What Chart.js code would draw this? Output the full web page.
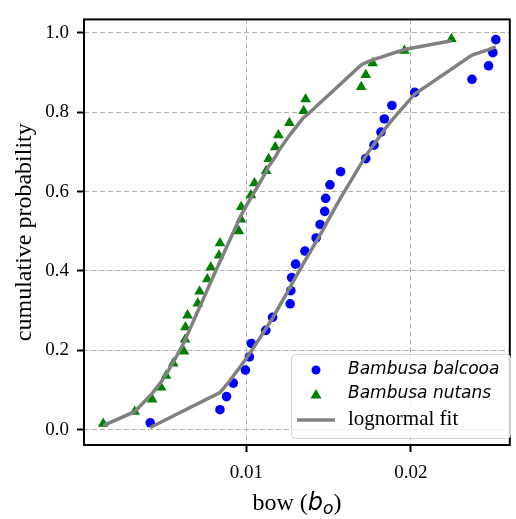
<!DOCTYPE html>
<html>
<head>
<meta charset="utf-8">
<script src="https://cdn.jsdelivr.net/npm/chart.js@4.4.1/dist/chart.umd.min.js"></script>
<style>
  html, body { margin: 0; padding: 0; background: #fff; }
</style>
</head>
<body>
<canvas id="bowChart" width="516" height="519"></canvas>
<script>
/* ── Data: bow of the two bamboo species, empirical CDF + lognormal fit ── */
const balcooaBow = [0.00415, 0.00839, 0.00879, 0.00920, 0.00994, 0.01018, 0.01030, 0.01118, 0.01159, 0.01266,
                    0.01270, 0.01275, 0.01299, 0.01356, 0.01424, 0.01448, 0.01476, 0.01482, 0.01508, 0.01573,
                    0.01726, 0.01776, 0.01818, 0.01839, 0.01885, 0.02024, 0.02372, 0.02473, 0.02499, 0.02517];
const balcooaProb = [0.017, 0.050, 0.083, 0.117, 0.150, 0.183, 0.217, 0.250, 0.283, 0.317,
                     0.350, 0.383, 0.417, 0.450, 0.483, 0.517, 0.550, 0.583, 0.617, 0.650,
                     0.683, 0.717, 0.750, 0.783, 0.817, 0.850, 0.883, 0.917, 0.950, 0.983];
const balcooaFit = [0.005, 0.093, 0.113, 0.135, 0.176, 0.191, 0.198, 0.254, 0.281, 0.359,
                    0.362, 0.366, 0.384, 0.425, 0.474, 0.491, 0.511, 0.516, 0.536, 0.584,
                    0.690, 0.719, 0.743, 0.756, 0.780, 0.846, 0.944, 0.958, 0.962, 0.965];

const nutansBow = [0.00129, 0.00320, 0.00427, 0.00481, 0.00511, 0.00555, 0.00620, 0.00627, 0.00629, 0.00642,
                   0.00704, 0.00715, 0.00762, 0.00783, 0.00833, 0.00839, 0.00954, 0.00967, 0.00968, 0.01027,
                   0.01049, 0.01120, 0.01135, 0.01175, 0.01195, 0.01261, 0.01348, 0.01360, 0.01698, 0.01726,
                   0.01768, 0.01961, 0.02247];
const nutansProb = [0.015, 0.045, 0.076, 0.106, 0.136, 0.167, 0.197, 0.227, 0.258, 0.288,
                    0.318, 0.348, 0.379, 0.409, 0.439, 0.470, 0.500, 0.530, 0.561, 0.591,
                    0.621, 0.652, 0.682, 0.712, 0.742, 0.773, 0.803, 0.833, 0.864, 0.894,
                    0.924, 0.955, 0.985];
const nutansFit = [0.010, 0.045, 0.091, 0.120, 0.139, 0.169, 0.220, 0.227, 0.229, 0.240,
                   0.298, 0.308, 0.352, 0.372, 0.418, 0.423, 0.528, 0.540, 0.540, 0.584,
                   0.599, 0.650, 0.663, 0.687, 0.702, 0.741, 0.787, 0.790, 0.919, 0.925,
                   0.932, 0.958, 0.980];

const xTicks = [0.01, 0.02];
const yTicks = [0.0, 0.2, 0.4, 0.6, 0.8, 1.0];

const seriesNames = ['Bambusa balcooa', 'Bambusa nutans', 'lognormal fit'];

/* ── Palette / fonts ───────────────────────────────────────── */
const palette = {
    blue:  '#0000ff',
    green: '#008000',
    fit:   '#808080',
    grid:  '#b0b0b0',
    frame: '#000000',
};
const serif = '"Liberation Serif", "Times New Roman", serif';
const sans  = '"DejaVu Sans", sans-serif';

const toXY = (xs, ys) => xs.map((x, i) => ({ x, y: ys[i] }));

/* frame on all four sides, drawn over the data like mpl spines */
const framePlugin = {
    id: 'frame',
    afterDatasetsDraw(chart) {
        const { ctx, chartArea: a } = chart;
        ctx.save();
        ctx.strokeStyle = palette.frame;
        ctx.lineWidth = 2;
        ctx.strokeRect(a.left, a.top, a.right - a.left, a.bottom - a.top);
        ctx.restore();
    },
};

/* x title with a math-style italic symbol: bow (b_o) */
const xTitlePlugin = {
    id: 'xTitle',
    afterDraw(chart) {
        const { ctx, chartArea: a } = chart;
        const parts = [
            { t: 'bow (', font: `24px ${serif}`, dy: 0 },
            { t: 'b',     font: `italic 24px ${sans}`, dy: 0 },
            { t: 'o',     font: `italic 17px ${sans}`, dy: 4 },
            { t: ')',     font: `24px ${serif}`, dy: 0 },
        ];
        ctx.save();
        ctx.fillStyle = '#000';
        ctx.textBaseline = 'alphabetic';
        let total = 0;
        parts.forEach(p => { ctx.font = p.font; p.w = ctx.measureText(p.t).width; total += p.w; });
        let x = (a.left + a.right) / 2 - total / 2;
        const y = 510;
        parts.forEach(p => {
            ctx.font = p.font;
            ctx.fillText(p.t, x, y + p.dy);
            x += p.w;
        });
        ctx.restore();
    },
};

/* legend box in the lower right corner of the axes */
const legendPlugin = {
    id: 'boxLegend',
    afterDraw(chart) {
        const { ctx } = chart;
        const x0 = 291.5, y0 = 354.5, w = 219, h = 84;
        ctx.save();
        ctx.beginPath();
        ctx.roundRect(x0, y0, w, h, 4);
        ctx.fillStyle = 'rgba(255,255,255,0.8)';
        ctx.fill();
        ctx.strokeStyle = '#d0d0d0';
        ctx.lineWidth = 1;
        ctx.stroke();

        const mx = 316, tx = 348;
        const rows = [370, 394, 420];

        // circle
        ctx.fillStyle = palette.blue;
        ctx.beginPath();
        ctx.arc(mx, rows[0], 4.5, 0, Math.PI * 2);
        ctx.fill();
        // triangle
        ctx.fillStyle = palette.green;
        ctx.beginPath();
        ctx.moveTo(mx, rows[1] - 5);
        ctx.lineTo(mx + 5.5, rows[1] + 4.5);
        ctx.lineTo(mx - 5.5, rows[1] + 4.5);
        ctx.closePath();
        ctx.fill();
        // line
        ctx.strokeStyle = palette.fit;
        ctx.lineWidth = 3.5;
        ctx.beginPath();
        ctx.moveTo(297, rows[2]);
        ctx.lineTo(335, rows[2]);
        ctx.stroke();

        ctx.fillStyle = '#000';
        ctx.textBaseline = 'middle';
        ctx.font = `italic 17px ${sans}`;
        ctx.fillText(seriesNames[0], tx, rows[0]);
        ctx.fillText(seriesNames[1], tx, rows[1]);
        ctx.font = `21px ${serif}`;
        ctx.fillText(seriesNames[2], tx, rows[2] - 1);
        ctx.restore();
    },
};

const tickStyle = {
    color: palette.grid,
    lineWidth: 1,
    tickColor: palette.frame,
    tickWidth: 2,
    tickLength: 7,
    tickBorderDash: [],
};

new Chart(document.getElementById('bowChart'), {
    type: 'scatter',
    data: {
        datasets: [
            {
                label: seriesNames[2],
                type: 'line',
                data: toXY(balcooaBow, balcooaFit),
                borderColor: palette.fit,
                borderWidth: 3.5,
                pointRadius: 0,
                fill: false,
                order: 1,
            },
            {
                label: '_fit2',
                type: 'line',
                data: toXY(nutansBow, nutansFit),
                borderColor: palette.fit,
                borderWidth: 3.5,
                pointRadius: 0,
                fill: false,
                order: 2,
            },
            {
                label: seriesNames[0],
                data: toXY(balcooaBow, balcooaProb),
                pointStyle: 'circle',
                pointRadius: 4.8,
                pointBackgroundColor: palette.blue,
                pointBorderWidth: 0,
                order: 3,
            },
            {
                label: seriesNames[1],
                data: toXY(nutansBow, nutansProb),
                pointStyle: 'triangle',
                pointRadius: 6.2,
                pointBackgroundColor: palette.green,
                pointBorderWidth: 0,
                order: 4,
            },
        ],
    },
    options: {
        responsive: false,
        animation: false,
        devicePixelRatio: 1,
        layout: { padding: { top: 6, right: 3, left: 0, bottom: 0 } },
        plugins: {
            legend: { display: false },
            tooltip: { enabled: false },
        },
        scales: {
            x: {
                type: 'linear',
                min: 0.00012,
                max: 0.02602,
                afterBuildTicks: s => { s.ticks = xTicks.map(v => ({ value: v })); },
                afterFit: s => { s.height = 74; },
                grid: tickStyle,
                border: { display: false, dash: [5, 3] },
                ticks: {
                    color: '#000',
                    padding: 10,
                    maxRotation: 0,
                    font: { family: serif, size: 19 },
                    callback: v => v.toFixed(2),
                },
            },
            y: {
                type: 'linear',
                min: -0.039,
                max: 1.034,
                afterBuildTicks: s => { s.ticks = yTicks.map(v => ({ value: v })); },
                afterFit: s => { s.width = 84; },
                grid: tickStyle,
                border: { display: false, dash: [5, 3] },
                ticks: {
                    color: '#000',
                    padding: 8,
                    font: { family: serif, size: 19 },
                    callback: v => v.toFixed(1),
                },
                title: {
                    display: true,
                    text: 'cumulative probability',
                    color: '#000',
                    font: { family: serif, size: 24 },
                    padding: { top: 10, bottom: 0 },
                },
            },
        },
    },
    plugins: [framePlugin, xTitlePlugin, legendPlugin],
});
</script>
</body>
</html>
